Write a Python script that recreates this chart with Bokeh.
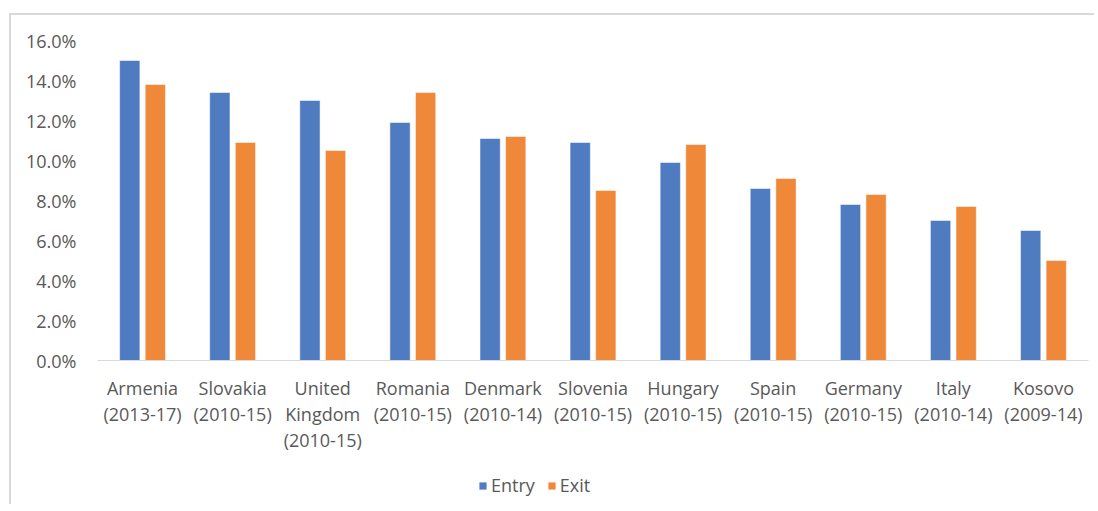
from bokeh.plotting import figure
from bokeh.layouts import column
from bokeh.models import (ColumnDataSource, FactorRange, Range1d, NumeralTickFormatter,
                          Legend, LegendItem, FixedTicker)
from bokeh.transform import dodge
from bokeh.embed import file_html
from bokeh.resources import INLINE

countries = ["Armenia", "Slovakia", "United Kingdom", "Romania", "Denmark", "Slovenia",
             "Hungary", "Spain", "Germany", "Italy", "Kosovo"]
periods = ["(2013-17)", "(2010-15)", "(2010-15)", "(2010-15)", "(2010-14)", "(2010-15)",
           "(2010-15)", "(2010-15)", "(2010-15)", "(2010-14)", "(2009-14)"]
entry_pct = [15.0, 13.4, 13.0, 11.9, 11.1, 10.9, 9.9, 8.6, 7.8, 7.0, 6.5]
exit_pct = [13.8, 10.9, 10.5, 13.4, 11.2, 8.5, 10.8, 9.1, 8.3, 7.7, 5.0]
y_ticks = [0.0, 0.02, 0.04, 0.06, 0.08, 0.10, 0.12, 0.14, 0.16]
series_names = ["Entry", "Exit"]

FONT = "Open Sans"
TEXT = "#595959"
BLUE = "#4F7BC1"
ORANGE = "#EF8839"
BORDER = "2px solid #d9d9d9"

labels = [c.replace(" ", "\n") + "\n" + per for c, per in zip(countries, periods)]

src = ColumnDataSource(dict(
    label=labels,
    entry=[v / 100 for v in entry_pct],
    exit=[v / 100 for v in exit_pct],
))

p = figure(x_range=FactorRange(*labels), y_range=Range1d(0, 0.16),
           width=1085, height=455, output_backend="svg", toolbar_location=None,
           min_border_left=86, min_border_right=8, min_border_top=25, min_border_bottom=110)
p.styles = {"border-left": BORDER, "border-top": BORDER,
            "margin-left": "9px", "margin-top": "13px"}
p.outline_line_color = None
p.xgrid.visible = False
p.ygrid.visible = False

p.vbar(x=dodge("label", -0.142, range=p.x_range), top="entry", width=0.225,
       source=src, fill_color=BLUE, line_color="white", line_alpha=0.5, line_width=1)
p.vbar(x=dodge("label", 0.142, range=p.x_range), top="exit", width=0.225,
       source=src, fill_color=ORANGE, line_color="white", line_alpha=0.5, line_width=1)

xa = p.xaxis[0]
xa.axis_line_color = "#d9d9d9"
xa.axis_line_width = 1
xa.major_tick_line_color = None
xa.minor_tick_line_color = None
xa.major_label_text_font = FONT
xa.major_label_text_font_size = "18px"
xa.major_label_text_color = TEXT
xa.major_label_text_line_height = 1.09
xa.major_label_standoff = 9
xa.major_label_orientation = "horizontal"

ya = p.yaxis[0]
ya.axis_line_color = None
ya.major_tick_line_color = None
ya.minor_tick_line_color = None
ya.ticker = FixedTicker(ticks=y_ticks)
ya.formatter = NumeralTickFormatter(format="0.0%")
ya.major_label_text_font = FONT
ya.major_label_text_font_size = "18px"
ya.major_label_text_color = TEXT
ya.major_label_standoff = 15

# legend strip below the chart (keys are zero-size bars: only their colours show in the legend)
lg = figure(width=1085, height=36, x_range=Range1d(0, 1), y_range=Range1d(0, 1),
            output_backend="svg", toolbar_location=None, min_border=0,
            x_axis_location=None, y_axis_location=None)
lg.styles = {"border-left": BORDER, "margin-left": "9px"}
lg.outline_line_color = None
lg.grid.visible = False
k1 = lg.vbar(x=[0.5], top=[0], bottom=[0], width=0, fill_color=BLUE, line_color=None)
k2 = lg.vbar(x=[0.5], top=[0], bottom=[0], width=0, fill_color=ORANGE, line_color=None)

legend = Legend(items=[LegendItem(label=series_names[0], renderers=[k1]),
                       LegendItem(label=series_names[1], renderers=[k2])],
                orientation="horizontal", location=(381, 7),
                glyph_width=9, glyph_height=9, label_standoff=4, spacing=12,
                padding=0, margin=0, border_line_color=None, background_fill_alpha=0,
                label_text_font=FONT, label_text_font_size="18px", label_text_color=TEXT)
lg.add_layout(legend)

layout = column(p, lg, spacing=0)
open("out.html", "w").write(file_html(layout, INLINE))
